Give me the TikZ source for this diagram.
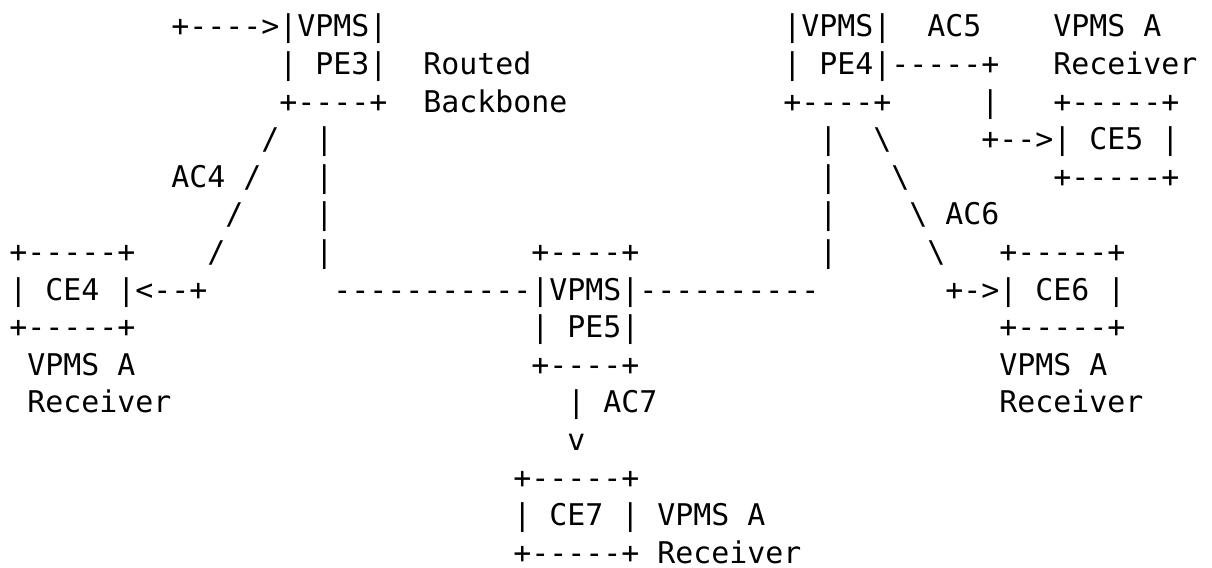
\documentclass[tikz,border=0pt]{standalone}
\usepackage{fontspec}
\setmonofont{DejaVu Sans Mono}
\frenchspacing
% One unit = one pixel of a 1212 x 568 canvas; y grows downward.
% Text sits on a character grid: 18 units per column, 37.6 units per row.
\newcommand{\gridtext}[4]{%
  \node[asc] (#1) at ({9.3+18*#2},{36.9+37.6*(#3-1)}) {#4};}
\newcommand{\bs}{\textbackslash}
\begin{document}
\begin{tikzpicture}[x=0.5pt,y=-0.5pt,
  asc/.style={anchor=base west,inner sep=0pt,outer sep=0pt,
    font=\ttfamily\fontsize{14.95pt}{18pt}\selectfont,text=black}]
\useasboundingbox[fill=white] (0,0) rectangle (1212,568);
% row 1
\gridtext{aThreeIn}{9}{1}{+---->|VPMS|}
\gridtext{peFourTop}{43}{1}{|VPMS|}
\gridtext{acFive}{51}{1}{AC5}
\gridtext{ceFiveLblA}{58}{1}{VPMS A}
% row 2
\gridtext{peThreeMid}{15}{2}{| PE3|}
\gridtext{routed}{23}{2}{Routed}
\gridtext{peFourMid}{43}{2}{| PE4|-----+}
\gridtext{ceFiveLblB}{58}{2}{Receiver}
% row 3
\gridtext{peThreeBot}{15}{3}{+----+}
\gridtext{backbone}{23}{3}{Backbone}
\gridtext{peFourBot}{43}{3}{+----+}
\gridtext{acFiveDown}{54}{3}{|}
\gridtext{ceFiveTop}{58}{3}{+-----+}
% row 4
\gridtext{acFourA}{14}{4}{/}
\gridtext{trunkThreeA}{17}{4}{|}
\gridtext{trunkFourA}{45}{4}{|}
\gridtext{acSixA}{48}{4}{\bs}
\gridtext{ceFiveMid}{54}{4}{+-->| CE5 |}
% row 5
\gridtext{acFourB}{9}{5}{AC4 /}
\gridtext{trunkThreeB}{17}{5}{|}
\gridtext{trunkFourB}{45}{5}{|}
\gridtext{acSixB}{49}{5}{\bs}
\gridtext{ceFiveBot}{58}{5}{+-----+}
% row 6
\gridtext{acFourC}{12}{6}{/}
\gridtext{trunkThreeC}{17}{6}{|}
\gridtext{trunkFourC}{45}{6}{|}
\gridtext{acSixC}{50}{6}{\bs{} AC6}
% row 7
\gridtext{ceFourTop}{0}{7}{+-----+}
\gridtext{acFourD}{11}{7}{/}
\gridtext{trunkThreeD}{17}{7}{|}
\gridtext{peFiveTop}{29}{7}{+----+}
\gridtext{trunkFourD}{45}{7}{|}
\gridtext{acSixD}{51}{7}{\bs}
\gridtext{ceSixTop}{55}{7}{+-----+}
% row 8
\gridtext{ceFourMid}{0}{8}{| CE4 |<--+}
\gridtext{peFiveMid}{18}{8}{-----------|VPMS|----------}
\gridtext{ceSixMid}{52}{8}{+->| CE6 |}
% row 9
\gridtext{ceFourBot}{0}{9}{+-----+}
\gridtext{peFiveLow}{29}{9}{| PE5|}
\gridtext{ceSixBot}{55}{9}{+-----+}
% row 10
\gridtext{ceFourLblA}{1}{10}{VPMS A}
\gridtext{peFiveBot}{29}{10}{+----+}
\gridtext{ceSixLblA}{55}{10}{VPMS A}
% row 11
\gridtext{ceFourLblB}{1}{11}{Receiver}
\gridtext{acSeven}{31}{11}{| AC7}
\gridtext{ceSixLblB}{55}{11}{Receiver}
% rows 12-15
\gridtext{acSevenTip}{31}{12}{v}
\gridtext{ceSevenTop}{28}{13}{+-----+}
\gridtext{ceSevenMid}{28}{14}{| CE7 | VPMS A}
\gridtext{ceSevenBot}{28}{15}{+-----+ Receiver}
\end{tikzpicture}
\end{document}
